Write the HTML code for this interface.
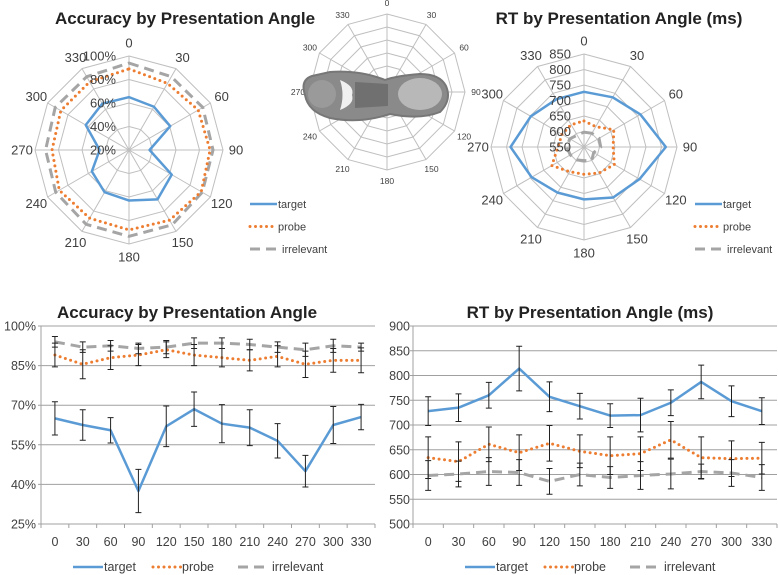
<!DOCTYPE html>
<html><head><meta charset="utf-8"><style>
html,body{margin:0;padding:0;background:#fff;}
svg{display:block;font-family:"Liberation Sans",sans-serif;}
</style></head><body>
<svg id="root" width="778" height="575" viewBox="0 0 778 575">
<g id="tl"></g>
<g id="tm"></g>
<g id="tr"></g>
<g id="bl"></g>
<g id="br"></g>
</svg>
<script>
const angles=[0,30,60,90,120,150,180,210,240,270,300,330];
const accTarget=[65,62.5,60.5,37.5,62,68.5,63,61.5,56.5,45,62.5,65.5];
const accProbe=[89,85.5,88,89,91,89,88,87,88.5,85.5,87,87];
const accIrrel=[94,92,92.5,91.5,92,93.5,93.5,93,92,91,92.5,92];
const accTargetErr=[6.3,5.8,4.8,8.2,7.7,6.5,7.2,6.8,6.5,6,7,4.8];
const accProbeErr=[4.5,5.5,4.5,4,3,4,3.5,4,4,5,4.5,4.7];
const accIrrelErr=[2,2,2,2,2.5,2,2,2,2,2.5,2.5,1.5];
const accTicks=[25,40,55,70,85,100];
const rtTarget=[728,735,760,814,757,738,719,720,745,787,748,728];
const rtProbe=[634,626,661,644,663,647,638,642,670,634,632,633];
const rtIrrel=[598,601,606,604,586,600,594,598,601,606,603,594];
const rtTargetErr=[29,28,26,45,30,26,24,34,26,34,31,27];
const rtProbeErr=[42,40,35,36,36,33,38,34,37,42,36,32];
const rtIrrelErr=[30,26,28,26,26,23,22,28,30,15,27,26];
const rtTicks=[500,550,600,650,700,750,800,850,900];
const accRadarTicks=[20,40,60,80,100];
const rtRadarTicks=[550,600,650,700,750,800,850];

const NS="http://www.w3.org/2000/svg";
function el(parent,tag,attrs,text){const e=document.createElementNS(NS,tag);for(const k in attrs)e.setAttribute(k,attrs[k]);if(text!==undefined)e.textContent=text;parent.appendChild(e);return e;}
const BLUE="#5b9bd5",ORANGE="#ed7d31",GRAY="#a5a5a5";
const styles={
 target:{stroke:BLUE,"stroke-width":2.5,fill:"none","stroke-linejoin":"round"},
 probe:{stroke:ORANGE,"stroke-width":3,fill:"none","stroke-dasharray":"0 5.5","stroke-linecap":"round"},
 irrelevant:{stroke:GRAY,"stroke-width":3,fill:"none","stroke-dasharray":"10 6"}
};

function radar(g,cx,cy,R,min,max,ticks,series,labelEnd,fs,legendX,showLegend,title,titleX){
 const rs=v=>(v-min)/(max-min)*R;
 const pt=(a,r)=>[cx+r*Math.sin(a*Math.PI/180),cy-r*Math.cos(a*Math.PI/180)];
 if(title){const t=el(g,"text",{x:titleX,y:24,"font-size":17,"font-weight":"bold","text-anchor":"middle",fill:"#222"},title);
 
 }
 ticks.forEach(v=>{const r=rs(v);if(r<=0)return;
  const p=el(g,"polygon",{points:angles.map(a=>pt(a,r).join(",")).join(" "),fill:"none",stroke:"#bfbfbf","stroke-width":1});
  
  });
 angles.forEach(a=>{const [x,y]=pt(a,R);
  const s=el(g,"line",{x1:cx,y1:cy,x2:x,y2:y,stroke:"#bfbfbf","stroke-width":1});
  
  
  const [lx,ly]=pt(a,R+13);
  const t=el(g,"text",{x:lx,y:ly+fs*0.35,"font-size":fs,"text-anchor":"middle",fill:"#404040"},String(a));
  
  });
 series.forEach(s=>{
  const p=el(g,"polygon",Object.assign({points:s.vals.map((v,i)=>pt(angles[i],rs(v)).join(",")).join(" ")},styles[s.name]));
  
  });
 if(labelEnd!==null) ticks.forEach(v=>{const r=rs(v);
  const t=el(g,"text",{x:labelEnd,y:cy-r+4.5,"font-size":13,"text-anchor":"end",fill:"#404040"},max>100?String(v):v+"%");
  
  });
 if(showLegend){["target","probe","irrelevant"].forEach((n,i)=>{const y=204+i*22.5;
  const l=el(g,"line",Object.assign({x1:legendX,y1:y,x2:legendX+27,y2:y},styles[n]));
  
  
  const t=el(g,"text",{x:legendX+(n==="irrelevant"?32:28),y:y+4,"font-size":11,fill:"#404040"},n);
  
  });}
}

radar(document.getElementById("tl"),129,150,94,20,100,accRadarTicks,
 [{name:"irrelevant",vals:accIrrel},{name:"probe",vals:accProbe},{name:"target",vals:accTarget}],
 116,13,250,true,"Accuracy by Presentation Angle",185);
radar(document.getElementById("tr"),584,147,93,550,850,rtRadarTicks,
 [{name:"irrelevant",vals:rtIrrel},{name:"probe",vals:rtProbe},{name:"target",vals:rtTarget}],
 571,13,695,true,"RT by Presentation Angle (ms)",619);

// middle polar with shoe image
(function(){const g=document.getElementById("tm");const cx=387,cy=92,R=78;
 const pt=(a,r)=>[cx+r*Math.sin(a*Math.PI/180),cy-r*Math.cos(a*Math.PI/180)];
 for(let k=1;k<=6;k++){el(g,"polygon",{points:angles.map(a=>pt(a,R*k/6).join(",")).join(" "),fill:"none",stroke:"#bfbfbf","stroke-width":1});}
 angles.forEach(a=>{const [x,y]=pt(a,R);el(g,"line",{x1:cx,y1:cy,x2:x,y2:y,stroke:"#bfbfbf","stroke-width":1});
  const [lx,ly]=pt(a,R+11);const t=el(g,"text",{x:lx,y:ly+3,"font-size":8.5,"text-anchor":"middle",fill:"#404040"},String(a));
  
  });
 const shoe=el(g,"g",{});
 
 
 el(shoe,"path",{d:"M312 76 Q300 80 305 95 Q308 112 330 118 Q360 124 390 114 Q420 120 440 112 Q452 100 446 86 Q440 74 420 74 Q395 76 385 80 Q360 70 330 72 Z",fill:"#8a8a8a",stroke:"#777","stroke-width":2});
 el(shoe,"ellipse",{cx:420,cy:94,rx:22,ry:16,fill:"#b8b8b8"});
 el(shoe,"ellipse",{cx:322,cy:94,rx:14,ry:14,fill:"#9a9a9a"});
 el(shoe,"path",{d:"M340 80 Q355 86 352 95 Q355 104 340 110 Q345 95 340 80 Z",fill:"#f0f0f0"});
 el(shoe,"path",{d:"M355 82 L388 84 L388 106 L355 108 Z",fill:"#707070"});
})();

function lineChart(g,o){
 const {left,right,top,bottom,min,max,ticks,fmt,labelEnd,title,titleX,series}=o;
 const slot=(right-left)/angles.length;
 const X=i=>left+slot*(i+0.5);
 const Y=v=>bottom-(v-min)/(max-min)*(bottom-top);
 const t=el(g,"text",{x:titleX,y:318,"font-size":17,"font-weight":"bold","text-anchor":"middle",fill:"#222"},title);
 
 
 ticks.forEach(v=>{const y=Y(v);
  const l=el(g,"line",{x1:left-3,y1:y,x2:right,y2:y,stroke:v===min?"#a0a0a0":"#a0a0a0","stroke-width":1});
  
  
  const tx=el(g,"text",{x:labelEnd,y:y+4.5,"font-size":12.5,"text-anchor":"end",fill:"#404040"},fmt(v));
  
  });
 el(g,"line",{x1:left,y1:top,x2:left,y2:bottom,stroke:"#a0a0a0","stroke-width":1});
 for(let i=0;i<=angles.length;i++){el(g,"line",{x1:left+slot*i,y1:bottom,x2:left+slot*i,y2:bottom+4,stroke:"#a0a0a0","stroke-width":1});}
 angles.forEach((a,i)=>{const tx=el(g,"text",{x:X(i),y:546,"font-size":12.5,"text-anchor":"middle",fill:"#404040"},String(a));
  
  });
 series.forEach(s=>{
  const p=el(g,"polyline",Object.assign({points:s.vals.map((v,i)=>X(i)+","+Y(v)).join(" ")},styles[s.name]));
  
  });
 series.forEach(s=>{s.vals.forEach((v,i)=>{const x=X(i),y1=Y(v+s.err[i]),y2=Y(v-s.err[i]);
  const e=el(g,"path",{d:`M${x} ${y1}V${y2}M${x-3} ${y1}H${x+3}M${x-3} ${y2}H${x+3}`,stroke:"#222","stroke-width":1,fill:"none"});
  
  });});
 const lx=o.legendX;
 [["target",0,30,31],["probe",80,28,29],["irrelevant",165,28,34]].forEach(([n,dx,w,tg])=>{
  const l=el(g,"line",Object.assign({x1:lx+dx,y1:567,x2:lx+dx+w,y2:567},styles[n]));
  
  
  const tx=el(g,"text",{x:lx+dx+tg,y:571,"font-size":12.5,fill:"#404040"},n);
  
  });
}
lineChart(document.getElementById("bl"),{left:41,right:375,top:326,bottom:524,min:25,max:100,ticks:accTicks,fmt:v=>v+"%",labelEnd:36,
 title:"Accuracy by Presentation Angle",titleX:187,legendX:73,
 series:[{name:"irrelevant",vals:accIrrel,err:accIrrelErr},{name:"probe",vals:accProbe,err:accProbeErr},{name:"target",vals:accTarget,err:accTargetErr}]});
lineChart(document.getElementById("br"),{left:413,right:777,top:326,bottom:524,min:500,max:900,ticks:rtTicks,fmt:v=>String(v),labelEnd:410,
 title:"RT by Presentation Angle (ms)",titleX:590,legendX:465,
 series:[{name:"irrelevant",vals:rtIrrel,err:rtIrrelErr},{name:"probe",vals:rtProbe,err:rtProbeErr},{name:"target",vals:rtTarget,err:rtTargetErr}]});
</script>
</body></html>
